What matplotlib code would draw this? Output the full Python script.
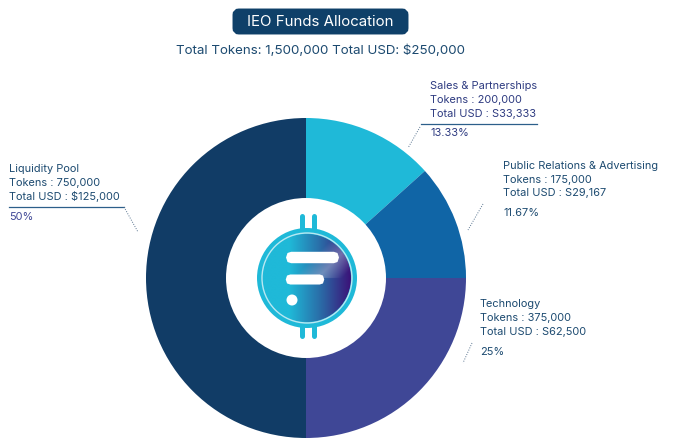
import numpy as np
from matplotlib import pyplot as plt
from matplotlib.patches import Circle, FancyBboxPatch

W, H = 673, 438

categories = ["Sales & Partnerships", "Public Relations & Advertising",
              "Technology", "Liquidity Pool"]
tokens = [200000, 175000, 375000, 750000]
usd_labels = ["S33,333", "S29,167", "S62,500", "$125,000"]
pct_labels = ["13.33%", "11.67%", "25%", "50%"]
colors = ["#1fb9d8", "#1065a6", "#3f4796", "#113c66"]

title = "IEO Funds Allocation"
subtitle = "Total Tokens: 1,500,000 Total USD: $250,000"

plt.rcParams["font.family"] = ["Inter", "DejaVu Sans"]


def py(y):
    # picture y (from the top) to axes y
    return H - y


fig = plt.figure(figsize=(W / 100, H / 100), dpi=100)
ax = fig.add_axes([0, 0, 1, 1])

cx, cy, r = 306, 278, 160
ax.pie(tokens, colors=colors, startangle=90, counterclock=False,
       center=(cx, py(cy)), radius=r, frame=True)
ax.set_xlim(0, W)
ax.set_ylim(0, H)
ax.set_aspect("equal")
ax.axis("off")
ax.add_patch(Circle((cx, py(cy)), 80, fc="white", ec="none", zorder=3))

# title box and subtitle
ax.add_patch(FancyBboxPatch((236, py(31)), 169, 19,
                            boxstyle="round,pad=0,rounding_size=3",
                            fc="#0f4069", ec="#0f4069", lw=5, zorder=3,
                            mutation_aspect=1))
ax.text(320.5, py(21.5), title, color="white", fontsize=10.8, ha="center",
        va="center", zorder=4, parse_math=False)
ax.text(320.5, py(50.5), subtitle, color="#1c4a70", fontsize=9.6, ha="center",
        va="center", parse_math=False)

# logo
lx, ly = 307, 278
for x in (301.5, 314):
    ax.plot([x, x], [py(216), py(236)], color="#1fb9d8", lw=3.6,
            solid_capstyle="round", zorder=4)
    ax.plot([x, x], [py(320), py(336)], color="#1fb9d8", lw=3.6,
            solid_capstyle="round", zorder=4)
ax.add_patch(Circle((lx, py(ly)), 50, fc="#1fb9d8", ec="none", zorder=5))
ax.add_patch(Circle((lx, py(ly)), 45, fc="none", ec="#b9e8f2", lw=1, zorder=7))

# disc gradient, cyan on the left to purple on the right
gx, gy = np.meshgrid(np.linspace(0, 1, 200), np.linspace(0, 1, 200))
c0 = np.array([0x1f, 0xb9, 0xd8]) / 255
c1 = np.array([0x2a, 0x6d, 0xa8]) / 255
c2 = np.array([0x3b, 0x12, 0x78]) / 255
t = np.clip((gx - 0.3) / 0.35, 0, 1)[..., None]
t2 = np.clip((gx - 0.65) / 0.35, 0, 1)[..., None]
img = c0 * (1 - t) + c1 * t
img = img * (1 - t2) + c2 * t2
# pale diagonal sheen in the upper right
sheen = np.clip(1 - np.abs((gx - gy) - 0.12) / 0.28, 0, 1) * (gy > 0.5) * (gx > 0.4)
img = img + (np.array([0.75, 0.75, 0.85]) - img) * (sheen[..., None] * 0.45)
im = ax.imshow(img, origin="lower", zorder=6, aspect="equal",
               extent=(lx - 44, lx + 44, py(ly) - 44, py(ly) + 44))
im.set_clip_path(Circle((lx, py(ly)), 44, transform=ax.transData))
ax.set_xlim(0, W)
ax.set_ylim(0, H)

ax.add_patch(FancyBboxPatch((291.5, py(258)), 42, 1,
                            boxstyle="round,pad=0,rounding_size=0.5",
                            fc="white", ec="white", lw=7.5, zorder=8))
ax.add_patch(FancyBboxPatch((290.5, py(280)), 29, 1,
                            boxstyle="round,pad=0,rounding_size=0.5",
                            fc="white", ec="white", lw=6.5, zorder=8))
ax.add_patch(Circle((292, py(300)), 5.5, fc="white", ec="none", zorder=8))

# callouts
label_x = [430, 503, 480, 9]
label_y = [(86, 100, 114, 133), (166, 180, 193, 213),
           (304, 318, 332, 352), (169, 183, 197, 217)]
text_colors = ["#2d3a80", "#1c4a70", "#1c4a70", "#1c4a70"]
pct_colors = ["#2d3a80", "#1c4a70", "#1c4a70", "#3f4796"]
for i, name in enumerate(categories):
    x = label_x[i]
    y = label_y[i]
    lines = [name, "Tokens : {:,}".format(tokens[i]),
             "Total USD : " + usd_labels[i]]
    for line, ly_txt in zip(lines, y):
        ax.text(x, py(ly_txt), line, color=text_colors[i], fontsize=7.9,
                va="center", parse_math=False)
    ax.text(x, py(y[3]), pct_labels[i], color=pct_colors[i], fontsize=7.9,
            va="center", parse_math=False)

# rules under the Sales and Liquidity labels
ax.plot([421, 537], [py(124), py(124)], color="#2c5f8a", lw=0.9)
ax.plot([9, 124], [py(207), py(207)], color="#2c5f8a", lw=0.9)

# dotted leaders
for xs, ys in [((420, 408), (127, 148)), ((483, 468), (204, 230)),
               ((472, 463), (343, 363)), ((124, 138), (207, 232))]:
    ax.plot(xs, [py(ys[0]), py(ys[1])], color="#5a7590", lw=0.7, ls=(0, (1, 1.5)))

fig.savefig("out.png", dpi=100)
